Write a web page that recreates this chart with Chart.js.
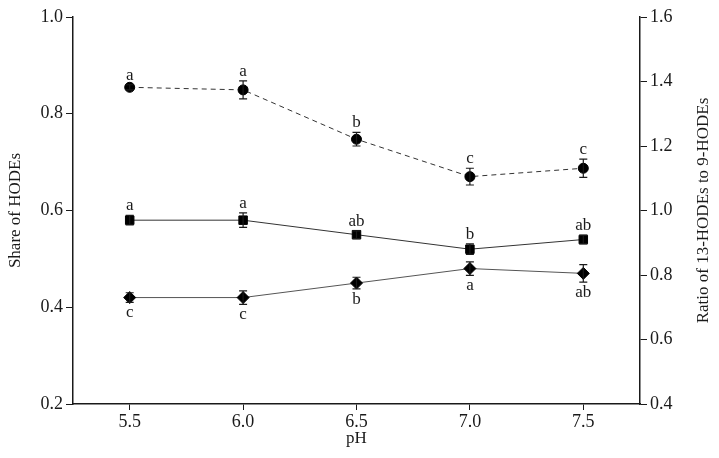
<!DOCTYPE html>
<html>
<head>
<meta charset="utf-8">
<script src="https://cdn.jsdelivr.net/npm/chart.js@4.4.0/dist/chart.umd.min.js"></script>
<style>
  html, body { margin: 0; padding: 0; background: #fff; }
  #hodeChart { display: block; }
</style>
</head>
<body>
<canvas id="hodeChart" width="719" height="458"></canvas>
<script>
// pH values on the x axis
const phValues = [5.5, 6.0, 6.5, 7.0, 7.5];

// share of 13-HODEs (squares, left axis)
const share13 = [0.58, 0.58, 0.55, 0.52, 0.54];
const share13Err = [0.010, 0.015, 0.008, 0.011, 0.009];
const share13Letters = ['a', 'a', 'ab', 'b', 'ab'];

// share of 9-HODEs (diamonds, left axis)
const share9 = [0.42, 0.42, 0.45, 0.48, 0.47];
const share9Err = [0.010, 0.014, 0.012, 0.014, 0.018];
const share9Letters = ['c', 'c', 'b', 'a', 'ab'];

// ratio 13-HODEs / 9-HODEs (circles, right axis)
const ratio = [1.382, 1.374, 1.221, 1.105, 1.131];
const ratioErr = [0.008, 0.028, 0.021, 0.026, 0.028];
const ratioLetters = ['a', 'a', 'b', 'c', 'c'];

const leftTicks = [0.2, 0.4, 0.6, 0.8, 1.0];
const rightTicks = [0.4, 0.6, 0.8, 1.0, 1.2, 1.4, 1.6];
const rightTitle = 'Ratio of 13-HODEs to 9-HODEs';

const serif = '"Liberation Serif", "DejaVu Serif", serif';
const ink = '#1a1a1a';

function toPoints(ys) {
    return phValues.map((x, i) => ({ x: x, y: ys[i] }));
}

// error bars + significance letters + right title (reads bottom to top)
const errorBarPlugin = {
    id: 'errorBars',
    afterDatasetsDraw(chart) {
        const ctx = chart.ctx;
        const xScale = chart.scales.x;
        chart.data.datasets.forEach(ds => {
            const yScale = chart.scales[ds.yAxisID];
            ctx.save();
            ctx.strokeStyle = ink;
            ctx.lineWidth = 1.2;
            ds.data.forEach((pt, i) => {
                const px = xScale.getPixelForValue(pt.x);
                const top = yScale.getPixelForValue(pt.y + ds.errors[i]);
                const bot = yScale.getPixelForValue(pt.y - ds.errors[i]);
                ctx.beginPath();
                ctx.moveTo(px, top); ctx.lineTo(px, bot);
                ctx.moveTo(px - 4, top); ctx.lineTo(px + 4, top);
                ctx.moveTo(px - 4, bot); ctx.lineTo(px + 4, bot);
                ctx.stroke();

                ctx.fillStyle = ink;
                ctx.font = '17px ' + serif;
                ctx.textAlign = 'center';
                if (ds.lettersBelow) {
                    ctx.textBaseline = 'top';
                    ctx.fillText(ds.letters[i], px, bot + 2);
                } else {
                    ctx.textBaseline = 'bottom';
                    ctx.fillText(ds.letters[i], px, top - 1);
                }
            });
            ctx.restore();
        });
    },
    afterDraw(chart) {
        const ctx = chart.ctx;
        const area = chart.chartArea;
        ctx.save();
        ctx.translate(704, (area.top + area.bottom) / 2);
        ctx.rotate(-Math.PI / 2);
        ctx.fillStyle = ink;
        ctx.font = '17px ' + serif;
        ctx.textAlign = 'center';
        ctx.textBaseline = 'middle';
        ctx.fillText(rightTitle, 0, 0);
        ctx.restore();
    }
};

const ctx = document.getElementById('hodeChart').getContext('2d');
new Chart(ctx, {
    type: 'line',
    data: {
        datasets: [
            {
                label: 'Ratio',
                data: toPoints(ratio),
                errors: ratioErr,
                letters: ratioLetters,
                lettersBelow: false,
                yAxisID: 'y2',
                borderColor: '#333',
                borderWidth: 1,
                borderDash: [5, 4],
                pointStyle: 'circle',
                pointRadius: 5,
                pointBackgroundColor: '#000',
                pointBorderColor: '#000',
                tension: 0
            },
            {
                label: '13-HODEs',
                data: toPoints(share13),
                errors: share13Err,
                letters: share13Letters,
                lettersBelow: false,
                yAxisID: 'y',
                borderColor: '#333',
                borderWidth: 1,
                pointStyle: 'rect',
                pointRadius: 6,
                pointBackgroundColor: '#000',
                pointBorderColor: '#000',
                tension: 0
            },
            {
                label: '9-HODEs',
                data: toPoints(share9),
                errors: share9Err,
                letters: share9Letters,
                lettersBelow: true,
                yAxisID: 'y',
                borderColor: '#555',
                borderWidth: 1,
                pointStyle: 'rectRot',
                pointRadius: 6,
                pointBackgroundColor: '#000',
                pointBorderColor: '#000',
                tension: 0
            }
        ]
    },
    options: {
        responsive: false,
        animation: false,
        devicePixelRatio: 1,
        layout: { padding: { top: 17, right: 0, left: 5, bottom: 9 } },
        plugins: {
            legend: { display: false },
            tooltip: { enabled: false }
        },
        scales: {
            x: {
                type: 'linear',
                min: 5.25,
                max: 7.75,
                afterBuildTicks: scale => { scale.ticks = phValues.map(v => ({ value: v })); },
                afterFit: scale => { scale.height = 45; },
                border: { display: true, color: ink, width: 1.5 },
                grid: { display: true, drawOnChartArea: false, tickLength: 6, color: ink },
                ticks: {
                    color: ink,
                    font: { family: serif, size: 18 },
                    padding: 1,
                    callback: v => v.toFixed(1)
                },
                title: {
                    display: true,
                    text: 'pH',
                    color: ink,
                    font: { family: serif, size: 17 },
                    padding: { top: 0, bottom: 0 }
                }
            },
            y: {
                position: 'left',
                min: 0.2,
                max: 1.0,
                afterBuildTicks: scale => { scale.ticks = leftTicks.map(v => ({ value: v })); },
                afterFit: scale => { scale.width = 68; },
                border: { display: true, color: ink, width: 1.5 },
                grid: { display: true, drawOnChartArea: false, tickLength: 7, color: ink },
                ticks: {
                    color: ink,
                    font: { family: serif, size: 18 },
                    padding: 3,
                    callback: v => v.toFixed(1)
                },
                title: {
                    display: true,
                    text: 'Share of HODEs',
                    color: ink,
                    font: { family: serif, size: 17 },
                    padding: { top: 0, bottom: 2 }
                }
            },
            y2: {
                position: 'right',
                min: 0.4,
                max: 1.6,
                afterBuildTicks: scale => { scale.ticks = rightTicks.map(v => ({ value: v })); },
                afterFit: scale => { scale.width = 79; },
                border: { display: true, color: ink, width: 1.5 },
                grid: { display: true, drawOnChartArea: false, tickLength: 7, color: ink },
                ticks: {
                    color: ink,
                    font: { family: serif, size: 18 },
                    padding: 3,
                    callback: v => v.toFixed(1)
                },
                title: { display: false }
            }
        }
    },
    plugins: [errorBarPlugin]
});
</script>
</body>
</html>
